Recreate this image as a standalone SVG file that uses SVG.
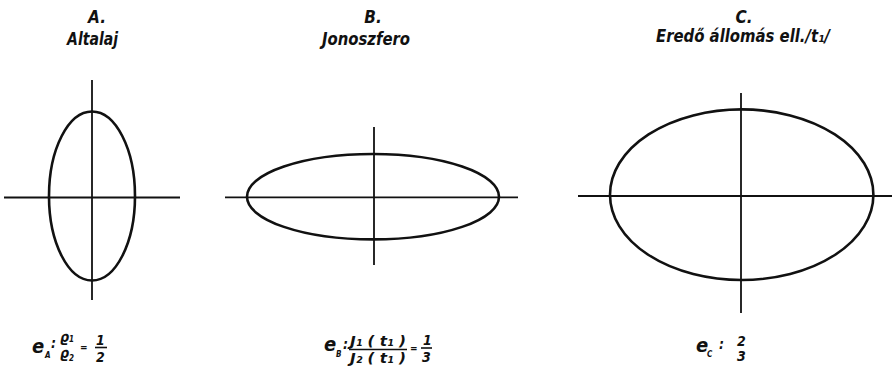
<svg xmlns="http://www.w3.org/2000/svg" width="893" height="367" viewBox="0 0 893 367">
<style>
.ax{stroke:#111;stroke-width:1.8;fill:none}
.el{stroke:#111;stroke-width:2.6;fill:none}
text{font-family:"DejaVu Sans Condensed","DejaVu Sans",sans-serif;font-style:italic;font-weight:bold;fill:#111}
.t{font-size:17px;text-anchor:middle}
.e{font-size:20px}
.f{font-size:14px}
.r{font-size:14px}
.q{font-size:10px;font-style:normal}
.s{font-size:8px}
.bar{stroke:#111;stroke-width:1.6}
</style>
<rect width="893" height="367" fill="#fff"/>
<g id="A">
<text class="t" x="97" y="23">A.</text>
<text class="t" x="92.5" y="45" textLength="51" lengthAdjust="spacingAndGlyphs">Altalaj</text>
<line class="ax" x1="92" y1="80" x2="92" y2="300"/>
<line class="ax" x1="4" y1="197.5" x2="180" y2="197.5"/>
<ellipse class="el" cx="92" cy="196" rx="43" ry="84.5"/>
<text class="e" x="32" y="353">e</text><text class="s" x="45" y="358">A</text>
<text class="f" x="51" y="348">:</text>
<text class="r" x="60" y="342">ϱ</text><text class="s" x="69" y="342">1</text>
<text class="r" x="60" y="358">ϱ</text><text class="s" x="69" y="361">2</text>
<text class="q" x="80" y="351">=</text>
<text class="f" x="96" y="345">1</text>
<line class="bar" x1="95" y1="347.5" x2="107" y2="347.5"/>
<text class="f" x="96" y="362">2</text>
</g>
<g id="B">
<text class="t" x="373" y="23">B.</text>
<text class="t" x="366" y="45" textLength="88" lengthAdjust="spacingAndGlyphs">Jonoszfero</text>
<line class="ax" x1="374" y1="127" x2="374" y2="265"/>
<line class="ax" x1="225" y1="197.3" x2="518" y2="197.3"/>
<ellipse class="el" cx="373" cy="196.7" rx="126" ry="42.7"/>
<text class="e" x="324" y="351">e</text><text class="s" x="336" y="357">B</text>
<text class="f" x="343" y="349">:</text>
<text class="f" x="350" y="346" textLength="56" lengthAdjust="spacingAndGlyphs">J₁ ( t₁ )</text>
<line class="bar" x1="349" y1="349.5" x2="407" y2="349.5"/>
<text class="f" x="350" y="363" textLength="56" lengthAdjust="spacingAndGlyphs">J₂ ( t₁ )</text>
<text class="q" x="410" y="352">=</text>
<text class="f" x="423" y="345">1</text>
<line class="bar" x1="421" y1="348" x2="432" y2="348"/>
<text class="f" x="422" y="362">3</text>
</g>
<g id="C">
<text class="t" x="744" y="23">C.</text>
<text class="t" x="743" y="42" textLength="174" lengthAdjust="spacingAndGlyphs">Eredő állomás ell./t₁/</text>
<line class="ax" x1="741" y1="93" x2="741" y2="313"/>
<line class="ax" x1="578" y1="196" x2="892" y2="196"/>
<ellipse class="el" cx="741.7" cy="194.7" rx="131.7" ry="85.3"/>
<text class="e" x="696" y="352">e</text><text class="s" x="707" y="357">C</text>
<text class="f" x="719" y="349">:</text>
<text class="f" x="737" y="346">2</text>
<text class="f" x="737" y="361">3</text>
</g>
</svg>
